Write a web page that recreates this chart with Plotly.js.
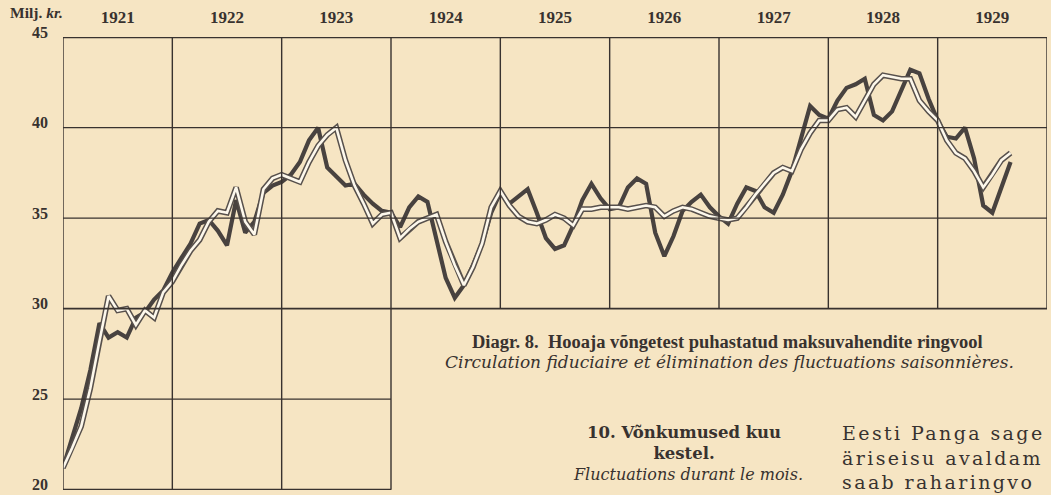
<!DOCTYPE html>
<html><head><meta charset="utf-8">
<script src="https://cdn.plot.ly/plotly-3.0.1.min.js"></script>
<style>html,body{margin:0;padding:0;background:#f6e5c3;} #chart{width:1051px;height:495px;}</style>
</head><body><div id="chart"></div>
<script>
// Years (x categories) and labels
const years = [1921, 1922, 1923, 1924, 1925, 1926, 1927, 1928, 1929];
const yearLabels = ['1921', '1922', '1923', '1924', '1925', '1926', '1927', '1928', '1929'];
const yTickValues = [20, 25, 30, 35, 40, 45];
const yTickLabels = ['20', '25', '30', '35', '40', '45'];

// Actual monthly circulation (Milj. kr.), Jan..Dec
const actual1921 = [21.2, 22.9, 24.5, 26.6, 29.2, 28.4, 28.7, 28.4, 29.5, 29.8, 30.5, 31.0];
const actual1922 = [32.0, 32.8, 33.6, 34.7, 34.9, 34.3, 33.5, 36.0, 34.2, 34.8, 36.4, 36.8];
const actual1923 = [37.0, 37.4, 38.1, 39.3, 40.0, 37.8, 37.3, 36.8, 36.9, 36.3, 35.8, 35.4];
const actual1924 = [35.3, 34.5, 35.6, 36.2, 35.9, 33.7, 31.7, 30.6, 31.3, 32.4, 33.6, 35.3];
const actual1925 = [36.4, 35.8, 36.2, 36.6, 35.3, 33.9, 33.3, 33.5, 34.6, 36.0, 36.9, 36.1];
const actual1926 = [35.5, 35.6, 36.7, 37.2, 36.9, 34.2, 32.9, 34.0, 35.4, 35.9, 36.3, 35.6];
const actual1927 = [35.1, 34.7, 35.8, 36.7, 36.5, 35.6, 35.3, 36.3, 37.6, 39.4, 41.2, 40.7];
const actual1928 = [40.5, 41.5, 42.2, 42.4, 42.7, 40.7, 40.4, 40.9, 42.1, 43.2, 43.0, 41.6];
const actual1929 = [40.4, 39.5, 39.4, 40.0, 38.3, 35.7, 35.3, 36.7, 38.1];

// Seasonally adjusted circulation (Milj. kr.)
const smoothed1921 = [21.2, 22.3, 23.5, 25.6, 28.2, 30.7, 29.9, 30.0, 29.1, 29.9, 29.5, 30.9];
const smoothed1922 = [31.5, 32.4, 33.2, 33.8, 34.8, 35.4, 35.3, 36.7, 34.8, 34.1, 36.6, 37.2];
const smoothed1923 = [37.4, 37.2, 37.0, 38.1, 39.0, 39.6, 40.0, 38.2, 36.8, 35.8, 34.7, 35.2];
const smoothed1924 = [35.3, 33.9, 34.4, 34.8, 35.0, 35.2, 33.7, 32.4, 31.3, 32.3, 33.6, 35.6];
const smoothed1925 = [36.5, 35.7, 35.1, 34.8, 34.7, 34.9, 35.2, 35.0, 34.6, 35.5, 35.5, 35.6];
const smoothed1926 = [35.6, 35.6, 35.5, 35.6, 35.7, 35.6, 35.1, 35.4, 35.6, 35.5, 35.3, 35.1];
const smoothed1927 = [35.0, 34.9, 35.0, 35.6, 36.3, 36.9, 37.5, 37.8, 37.6, 38.8, 39.7, 40.4];
const smoothed1928 = [40.4, 41.0, 41.1, 40.6, 41.5, 42.4, 42.9, 42.8, 42.7, 42.7, 41.5, 40.9];
const smoothed1929 = [40.4, 39.3, 38.6, 38.3, 37.6, 36.7, 37.4, 38.2, 38.6];

const actualByYear = [actual1921, actual1922, actual1923, actual1924, actual1925, actual1926, actual1927, actual1928, actual1929];
const smoothedByYear = [smoothed1921, smoothed1922, smoothed1923, smoothed1924, smoothed1925, smoothed1926, smoothed1927, smoothed1928, smoothed1929];

function toSeries(byYear) {
  const x = [], y = [];
  byYear.forEach((vals, i) => vals.forEach((v, m) => { x.push(years[i] + m / 12); y.push(v); }));
  return {x, y};
}
const act = toSeries(actualByYear);
const smo = toSeries(smoothedByYear);

const ink = '#38322f';
const paper = '#f6e5c3';

const traces = [
  {x: act.x, y: act.y, mode: 'lines', line: {color: '#48423f', width: 4.2}, hoverinfo: 'skip'},
  {x: smo.x, y: smo.y, mode: 'lines', line: {color: '#57504c', width: 5.6}, hoverinfo: 'skip'},
  {x: smo.x, y: smo.y, mode: 'lines', line: {color: '#fdf8ec', width: 2.6}, hoverinfo: 'skip'}
];

// Grid frame: the left block (1921-1923) reaches down to 20, the rest stops at 30
const lastYear = years[years.length - 1] + 1;
const shapes = [];
function hline(y, x0, x1, w) { shapes.push({type: 'line', xref: 'x', yref: 'y', x0: x0, x1: x1, y0: y, y1: y, line: {color: ink, width: w}}); }
function vline(x, y0, y1, w) { shapes.push({type: 'line', xref: 'x', yref: 'y', x0: x, x1: x, y0: y0, y1: y1, line: {color: ink, width: w}}); }
hline(45, years[0], lastYear, 2);
hline(40, years[0], lastYear, 1.4);
hline(35, years[0], lastYear, 1.4);
hline(30, years[0], lastYear, 1.8);
hline(25, years[0], 1924, 1.4);
hline(20, years[0], 1924, 1.8);
[1921, 1922, 1923, 1924].forEach(yr => vline(yr, 20, 45, 1.4));
[1925, 1926, 1927, 1928, 1929, 1930].forEach(yr => vline(yr, 30, 45, 1.4));

const serif = 'Liberation Serif, Times New Roman, serif';
const dserif = 'DejaVu Serif, serif';
function note(px, py, text, font, anchor, align) {
  // px, py in page pixels -> paper coordinates of the plot area (l=63, t=37, w=984, h=453)
  return {xref: 'paper', yref: 'paper', x: (px - 63) / 984, y: (490 - py) / 453,
          xanchor: anchor || 'center', yanchor: 'middle', align: align || 'center',
          text: text, showarrow: false, font: font};
}
const annotations = [
  note(8, 13, '<b>Milj. <i>kr.</i></b>', {family: serif, size: 15.5, color: ink}, 'left'),
  note(727, 342, '<b>Diagr. 8.  Hooaja võngetest puhastatud maksuvahendite ringvool</b>', {family: serif, size: 18.5, color: ink}),
  note(729, 362, '<i>Circulation fiduciaire et élimination des fluctuations saisonnières.</i>', {family: dserif, size: 17, color: ink}),
  note(684, 443, '<b>10. Võnkumused kuu<br>kestel.</b>', {family: dserif, size: 16.5, color: ink}),
  note(688, 474, '<i>Fluctuations durant le mois.</i>', {family: dserif, size: 16, color: ink}),
  note(840, 457.5, 'Eesti Panga sage<br>äriseisu avaldam<br>saab raharingvo', {family: dserif, size: 19, color: ink}, 'left', 'left')
];

const layout = {
  width: 1051, height: 495,
  margin: {l: 63, r: 4, t: 37, b: 5},
  paper_bgcolor: paper, plot_bgcolor: 'rgba(0,0,0,0)',
  showlegend: false,
  xaxis: {range: [years[0], lastYear], side: 'top', tickmode: 'array',
          tickvals: years.map(y => y + 0.5), ticktext: yearLabels,
          showgrid: false, zeroline: false, showline: false, ticks: '',
          ticklabelstandoff: 10,
          tickfont: {family: serif, size: 17, color: ink, weight: 'bold'}},
  yaxis: {range: [19.98, 45.01], tickmode: 'array', tickvals: yTickValues, ticktext: yTickLabels,
          showgrid: false, zeroline: false, showline: false, ticks: '',
          ticklabelshift: -5, ticklabelstandoff: 14, ticklabeloverflow: 'allow',
          tickfont: {family: serif, size: 16, color: ink, weight: 'bold'}},
  shapes: shapes,
  annotations: annotations
};

Plotly.newPlot('chart', traces, layout, {displayModeBar: false, staticPlot: true}).then(() => {
  // the justified body text of the page is letter-spaced
  document.querySelectorAll('.annotation-text').forEach(t => {
    if (t.textContent.indexOf('Eesti') === 0) t.style.letterSpacing = '2.4px';
  });
});
</script>
</body></html>
